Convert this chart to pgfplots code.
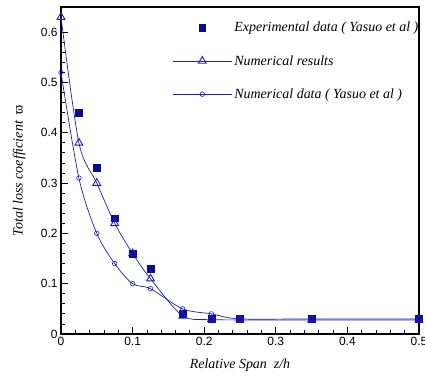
\documentclass[border=0pt]{standalone}
\usepackage{pgfplots}
\pgfplotsset{compat=1.18}
\usepackage{fontspec}
\setmainfont{Liberation Serif}
\newfontfamily\arial{Liberation Sans}
\definecolor{navyb}{RGB}{10,10,150}
\definecolor{lineb}{RGB}{30,30,190}
\begin{document}
\begin{tikzpicture}
\begin{axis}[
  scale only axis, width=358bp, height=327bp,
  xmin=0, xmax=0.5, ymin=0, ymax=0.65,
  xtick={0,0.1,0.2,0.3,0.4,0.5},
  ytick={0,0.1,0.2,0.3,0.4,0.5,0.6},
  xticklabels={0,0.1,0.2,0.3,0.4,0.5},
  yticklabels={0,0.1,0.2,0.3,0.4,0.5,0.6},
  minor x tick num=4, minor y tick num=4,
  tick align=inside, xtick pos=bottom, ytick pos=left,
  major tick length=7bp, minor tick length=4bp,
  every tick/.style={black, line width=0.8pt},
  axis line style={line width=1.3pt},
  ticklabel style={font=\arial\fontsize{12}{13}\selectfont},
  xlabel={\itshape Relative Span\ \ z/h},
  ylabel={\itshape Total loss coefficient \ \upshape ϖ},
  label style={font=\fontsize{14}{15}\selectfont},
  xlabel style={at={(axis description cs:0.5,-0.095)}, anchor=center},
  ylabel style={at={(axis description cs:-0.117,0.5)}, anchor=center},
  legend style={at={(0.31,0.96)}, anchor=north west, draw=none, fill=none,
    font=\itshape\fontsize{14}{15}\selectfont, row sep=18bp, inner sep=0pt},
  legend cell align=left,
  legend image code/.code={\draw[mark repeat=2,mark phase=2] plot coordinates {(0cm,0cm) (1.05cm,0cm) (2.1cm,0cm)};},
  clip=false,
]
\coordinate (nw) at (rel axis cs:0,1);
\coordinate (se) at (rel axis cs:1,0);
\addplot[only marks, mark=square*, mark size=3.4bp, color=navyb] coordinates {
(0.025,0.44) (0.05,0.33) (0.075,0.23) (0.1,0.16) (0.125,0.13) (0.17,0.04) (0.21,0.03) (0.25,0.03) (0.35,0.03) (0.5,0.03)};
\addlegendentry{Experimental data ( Yasuo et al )}
\addplot[smooth, color=lineb, line width=0.7pt, mark=triangle, mark size=4.5bp, mark options={line width=0.9pt, draw=lineb}] coordinates {
(0,0.63) (0.025,0.38) (0.05,0.30) (0.075,0.22) (0.1,0.16) (0.125,0.11) (0.17,0.036) (0.21,0.029) (0.25,0.028) (0.35,0.028) (0.5,0.028)};
\addlegendentry{Numerical results}
\addplot[smooth, color=lineb, line width=0.7pt, mark=o, mark size=2.3bp, mark options={line width=0.6pt, draw=lineb}] coordinates {
(0,0.52) (0.025,0.31) (0.05,0.20) (0.075,0.14) (0.1,0.10) (0.125,0.09) (0.17,0.05) (0.21,0.04) (0.25,0.03) (0.35,0.03) (0.5,0.03)};
\addlegendentry{Numerical data ( Yasuo et al )}
\end{axis}
\pgfresetboundingbox
\path ([xshift=-61bp,yshift=7bp]nw) rectangle ([xshift=6bp,yshift=-42bp]se);
\end{tikzpicture}
\end{document}
